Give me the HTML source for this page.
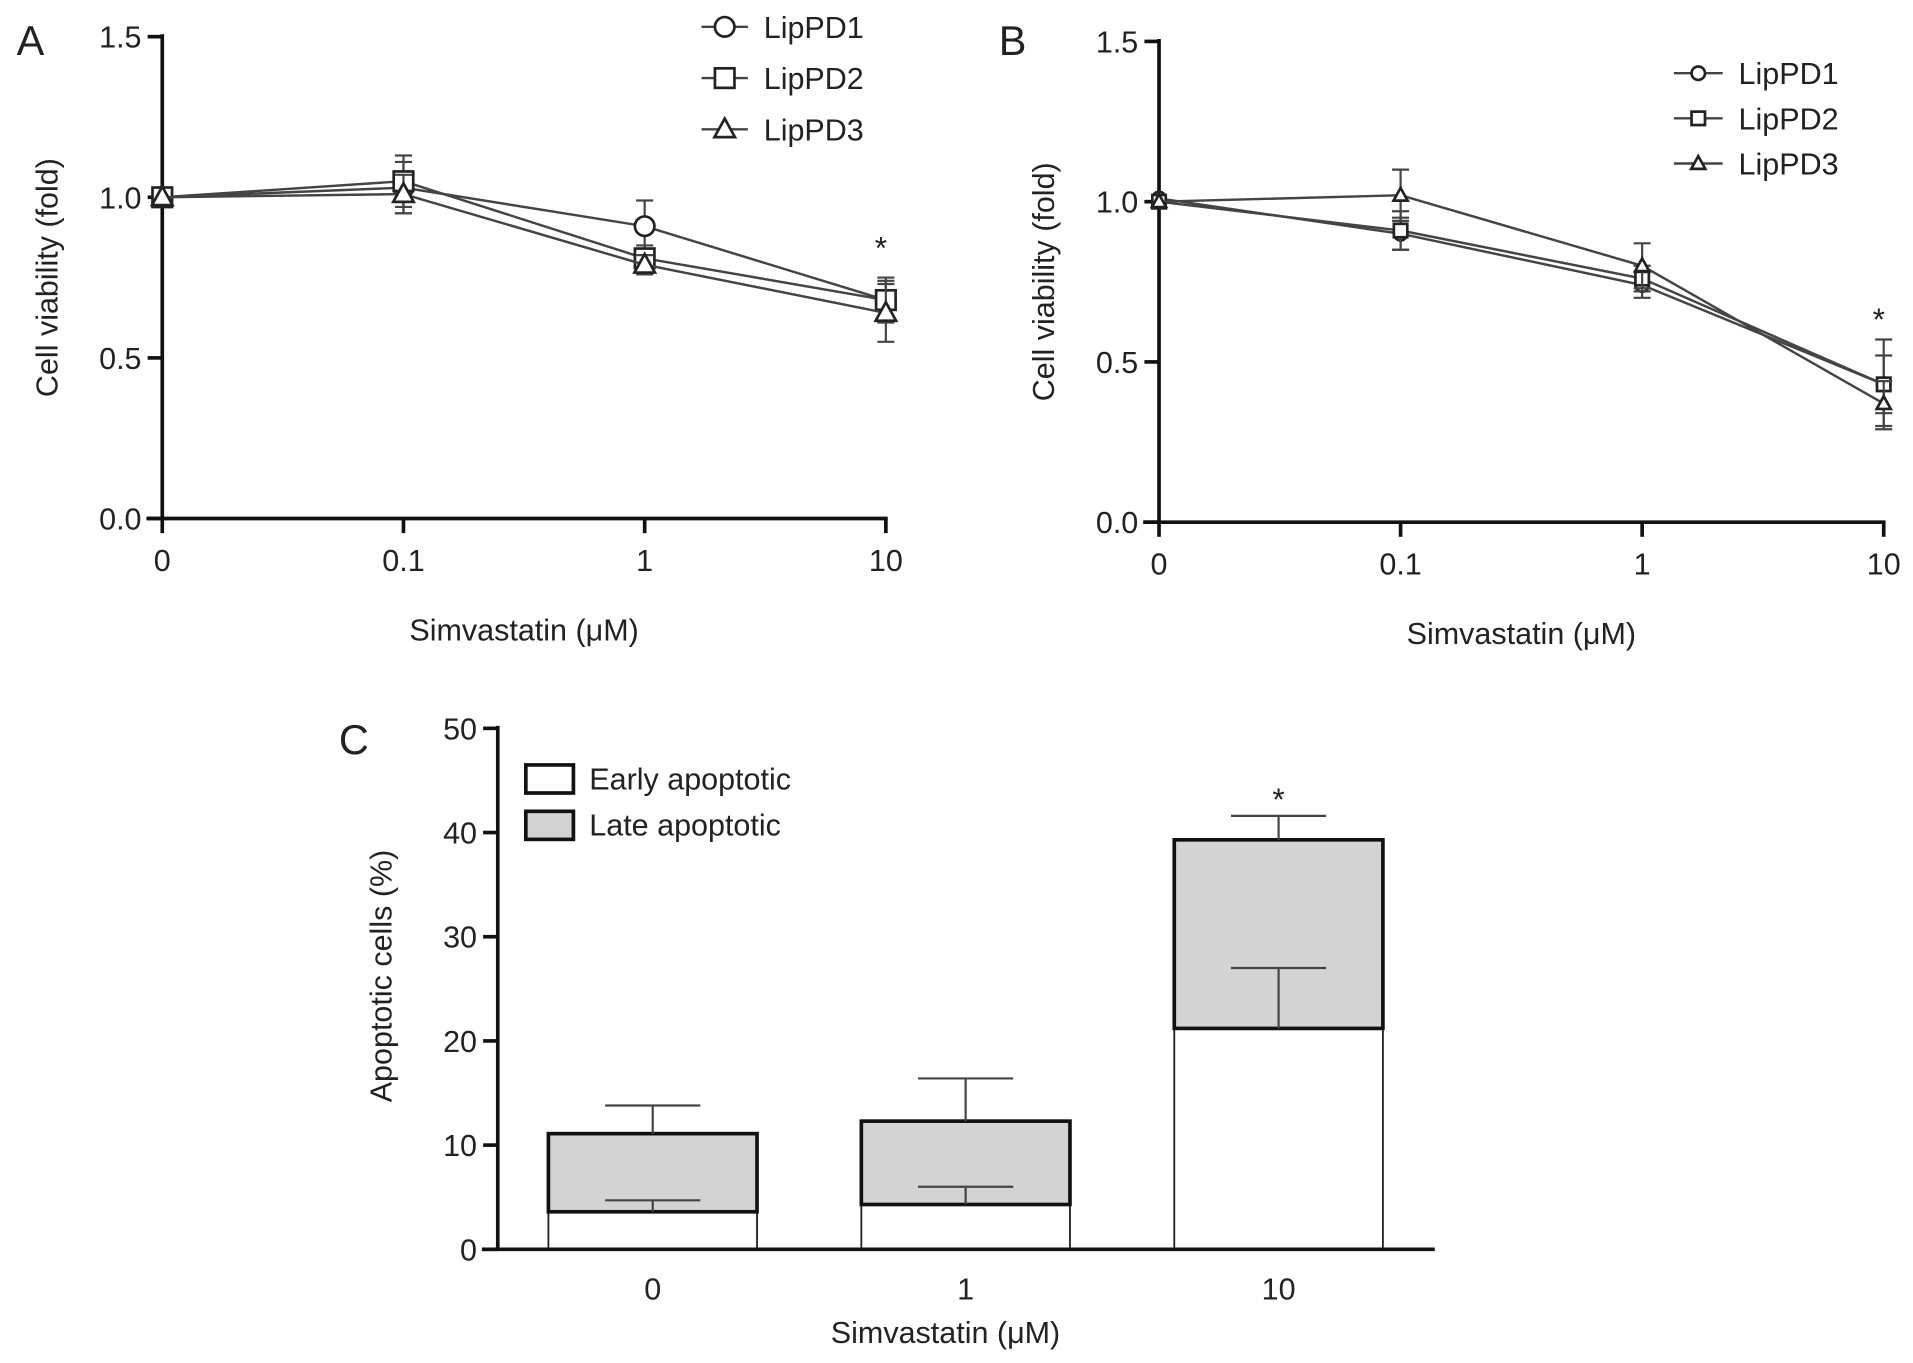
<!DOCTYPE html>
<html><head><meta charset="utf-8"><style>
html,body{margin:0;padding:0;background:#fff;}
svg{display:block;}
text{font-family:"Liberation Sans",sans-serif;fill:#222;}
</style></head><body>
<svg id="fig" width="1913" height="1363" viewBox="0 0 1568 1117.2" xmlns="http://www.w3.org/2000/svg"></svg>
<script>
// Panel A / B data
const doseLabels = ["0","0.1","1","10"];
const seriesNames = ["LipPD1","LipPD2","LipPD3"];
const aPD1 = [1.0,1.03,0.91,0.68];
const aPD2 = [1.0,1.05,0.81,0.68];
const aPD3 = [1.0,1.01,0.79,0.64];
const aErr1 = [0.0,0.08,0.08,0.06];
const aErr2 = [0.0,0.08,0.04,0.07];
const aErr3 = [0.0,0.06,0.03,0.09];
const bPD1 = [1.01,0.90,0.74,0.43];
const bPD2 = [1.0,0.91,0.76,0.43];
const bPD3 = [1.0,1.02,0.80,0.37];
const bErr1 = [0.0,0.05,0.04,0.09];
const bErr2 = [0.0,0.06,0.04,0.14];
const bErr3 = [0.0,0.08,0.07,0.07];
const viabTicks = [0.0,0.5,1.0,1.5];
// Panel C data
const cCats = ["0","1","10"];
const earlyVals = [3.6,4.3,21.2];
const lateVals = [7.5,8.0,18.1];
const earlyErr = [1.1,1.7,5.8];
const totalErr = [2.7,4.1,2.3];
const cTicks = [0,10,20,30,40,50];

const svg=document.getElementById('fig');
const NS='http://www.w3.org/2000/svg';
function el(tag,attrs,parent){const e=document.createElementNS(NS,tag);for(const k in attrs)e.setAttribute(k,attrs[k]);(parent||svg).appendChild(e);return e;}
function txt(s,x,y,size,anchor,parent){const t=el('text',{x:x,y:y,'font-size':size,'text-anchor':anchor||'middle'},parent);t.textContent=s;return t;}

function marker(g,type,x,y,r){
  const st={fill:'#fff',stroke:'#222','stroke-width':2.2};
  let m;
  if(type===0){m=el('circle',Object.assign({cx:x,cy:y,r:r},st),g);}
  else if(type===1){m=el('rect',Object.assign({x:x-r,y:y-r,width:2*r,height:2*r},st),g);}
  else{m=el('polygon',Object.assign({points:`${x},${y-r*1.1} ${x-r*1.05},${y+r*0.8} ${x+r*1.05},${y+r*0.8}`},st),g);}
  return m;
}

function linePanel(cfg){
  const g=el('g',{});
  
  
  const X=i=>cfg.x0+i*cfg.dx;
  const Y=v=>cfg.y0-v*cfg.ppu;
  const ax=el('line',{x1:cfg.x0,y1:Y(1.5)-2,x2:cfg.x0,y2:cfg.y0+1,stroke:'#111','stroke-width':3},g);
  
  const xa=el('line',{x1:cfg.x0-13,y1:cfg.y0,x2:X(3)+1.5,y2:cfg.y0,stroke:'#111','stroke-width':3},g);
  
  viabTicks.forEach(v=>{
    el('line',{x1:cfg.x0-12,y1:Y(v),x2:cfg.x0,y2:Y(v),stroke:'#111','stroke-width':3},g);
    const t=txt(v.toFixed(1),cfg.x0-17,Y(v)+9,25,'end',g);
    
  });
  doseLabels.forEach((d,i)=>{
    el('line',{x1:X(i),y1:cfg.y0,x2:X(i),y2:cfg.y0+12,stroke:'#111','stroke-width':3},g);
    const t=txt(d,X(i),cfg.y0+43,25,'middle',g);
    
  });
  const xt=txt('Simvastatin (\u03bcM)',cfg.x0+1.5*cfg.dx,cfg.y0+100,25,'middle',g);
  
  const yt=txt('Cell viability (fold)',0,0,25,'middle',g);
  yt.setAttribute('transform',`translate(${cfg.x0-86},${Y(0.75)}) rotate(-90)`);
  
  const pl=txt(cfg.letter,cfg.lx,cfg.ly,34,'middle',g);
  
  cfg.series.forEach((s,si)=>{
    const sg=el('g',{},g);
    
    
    s.forEach((v,i)=>{
      const e=cfg.errs[si][i];
      if(e>0){
        const yl=Y(v-e),yh=Y(v+e);
        el('line',{x1:X(i),y1:yl,x2:X(i),y2:yh,stroke:'#444','stroke-width':1.8},sg);
        el('line',{x1:X(i)-7,y1:yl,x2:X(i)+7,y2:yl,stroke:'#444','stroke-width':1.8},sg);
        el('line',{x1:X(i)-7,y1:yh,x2:X(i)+7,y2:yh,stroke:'#444','stroke-width':1.8},sg);
      }
    });
    const pts=s.map((v,i)=>X(i)+','+Y(v)).join(' ');
    const pl2=el('polyline',{points:pts,fill:'none',stroke:'#444','stroke-width':2},sg);
    
    s.forEach((v,i)=>{
      const m=marker(sg,si,X(i),Y(v),cfg.mr);
      
    });
  });
  const star=txt('*',X(3)-4,Y(cfg.starV),26,'middle',g);
  
  const lg=el('g',{},g);
  
  seriesNames.forEach((n,si)=>{
    const y=cfg.legY[si];
    const eg=el('g',{},lg);
    
    el('line',{x1:cfg.legX,y1:y,x2:cfg.legX+cfg.legW,y2:y,stroke:'#444','stroke-width':2},eg);
    marker(eg,si,cfg.legX+cfg.legW/2,y,cfg.mr);
    txt(n,cfg.legX+cfg.legW+13,y+9,25,'start',eg);
  });
}

linePanel({name:'panel-a',letter:'A',lx:25,ly:45,x0:133,y0:425,dx:197.7,ppu:263.3,mr:8,
  series:[aPD1,aPD2,aPD3],errs:[aErr1,aErr2,aErr3],starV:0.81,
  legX:575,legW:38,legY:[22,64,106]});
linePanel({name:'panel-b',letter:'B',lx:830,ly:45,x0:950,y0:428,dx:198,ppu:262.7,mr:5.5,
  series:[bPD1,bPD2,bPD3],errs:[bErr1,bErr2,bErr3],starV:0.6,
  legX:1372,legW:40,legY:[60,97,134]});

// Panel C
(function(){
  const g=el('g',{});
  
  const x0=408,y0=1024,ppu=(1024-597)/50;
  const Y=v=>y0-v*ppu;
  const cx=i=>535+i*256.5;
  const bw=171;
  cTicks.forEach(v=>{
    el('line',{x1:x0-12,y1:Y(v),x2:x0,y2:Y(v),stroke:'#111','stroke-width':3},g);
    const t=txt(String(v),x0-17,Y(v)+9,25,'end',g);
    
  });
  cCats.forEach((c,i)=>{
    const t=txt(c,cx(i),y0+41,25,'middle',g);
    
    const bg=el('g',{},g);
    
    const e=earlyVals[i],tot=earlyVals[i]+lateVals[i];
    const eb=el('rect',{x:cx(i)-bw/2,y:Y(e),width:bw,height:y0-Y(e),fill:'#fff',stroke:'#222','stroke-width':1.5},bg);
    
    const lb=el('rect',{x:cx(i)-bw/2,y:Y(tot),width:bw,height:Y(e)-Y(tot),fill:'#d3d3d3',stroke:'#111','stroke-width':3},bg);
    
    [[e,earlyErr[i]],[tot,totalErr[i]]].forEach(([v,er])=>{
      el('line',{x1:cx(i),y1:Y(v),x2:cx(i),y2:Y(v+er),stroke:'#444','stroke-width':1.8},bg);
      el('line',{x1:cx(i)-39,y1:Y(v+er),x2:cx(i)+39,y2:Y(v+er),stroke:'#444','stroke-width':1.8},bg);
    });
  });
  const ax=el('line',{x1:x0,y1:Y(50)-2,x2:x0,y2:y0,stroke:'#111','stroke-width':3},g);
  
  const xa=el('line',{x1:395,y1:y0,x2:1176,y2:y0,stroke:'#111','stroke-width':3},g);
  
  const star=txt('*',cx(2),y0-(earlyVals[2]+lateVals[2]+totalErr[2])*ppu-5,26,'middle',g);
  
  const xt=txt('Simvastatin (\u03bcM)',775,1101,25,'middle',g);
  
  const yt=txt('Apoptotic cells (%)',0,0,25,'middle',g);
  yt.setAttribute('transform','translate(321,800) rotate(-90)');
  
  const pl=txt('C',290,618,34,'middle',g);
  
  const lg=el('g',{},g);
  
  [['Early apoptotic','#fff',627],['Late apoptotic','#d3d3d3',665]].forEach(([n,f,y])=>{
    const eg=el('g',{},lg);
    
    el('rect',{x:431,y:y,width:39,height:23,fill:f,stroke:'#111','stroke-width':3},eg);
    txt(n,483,y+20,25,'start',eg);
  });
})();
</script>
</body></html>
